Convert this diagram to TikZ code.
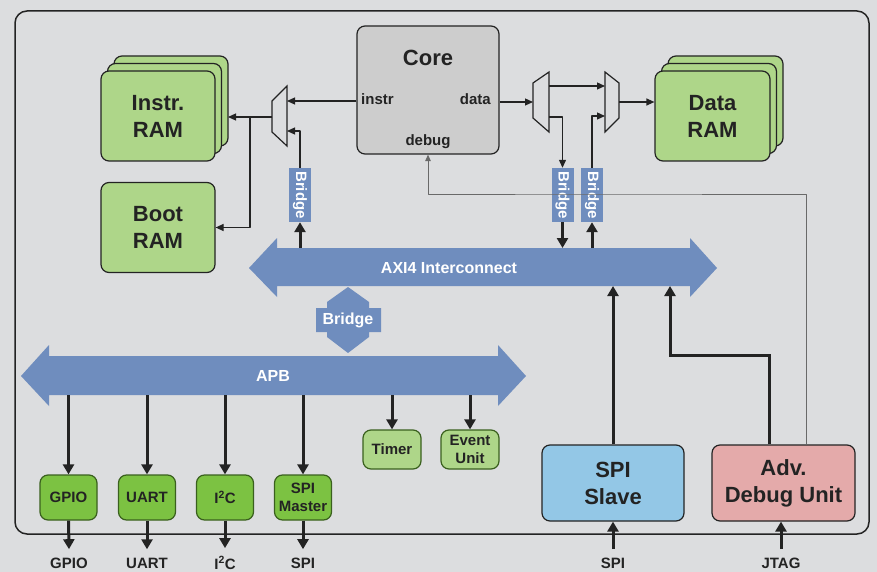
\documentclass[tikz,border=0pt]{standalone}
\usepackage{fontspec}
\usepackage{graphicx}
\setmainfont{Liberation Sans}
\usetikzlibrary{arrows.meta,shadows}
\definecolor{bggray}{RGB}{220,221,223}
\definecolor{busblue}{RGB}{111,141,190}
\definecolor{coregray}{RGB}{205,205,205}
\definecolor{ramgreen}{RGB}{174,214,137}
\definecolor{perigreen}{RGB}{124,194,66}
\definecolor{darkgreen}{RGB}{58,96,30}
\definecolor{slaveblue}{RGB}{147,199,230}
\definecolor{debugpink}{RGB}{228,170,170}
\definecolor{ink}{RGB}{35,35,35}
\definecolor{wiregray}{RGB}{105,105,105}
\newcommand{\fsbig}{\bfseries\fontsize{22}{27}\selectfont}
\newcommand{\fsmid}{\bfseries\fontsize{15}{18}\selectfont}
\newcommand{\fsbus}{\bfseries\fontsize{16}{19}\selectfont}
\tikzset{
  block/.style={draw=ink, line width=1.2pt, rounded corners=8pt, text=ink, align=center, inner sep=0pt},
  ram/.style={block, fill=ramgreen, minimum width=114pt, minimum height=90pt, font=\fsbig},
  ramstack/.style={ram, double copy shadow={shadow xshift=6.5pt, shadow yshift=7.5pt}},
  peri/.style={block, draw=darkgreen, fill=perigreen, minimum width=57pt, minimum height=45pt, font=\fsmid},
  smallperi/.style={block, draw=darkgreen, fill=ramgreen, minimum width=58pt, minimum height=39pt, font=\fsmid},
  bigblock/.style={block, minimum width=142pt, minimum height=76pt, font=\fsbig},
  bridgebox/.style={fill=busblue, text=white, font=\fsmid, minimum width=22pt, minimum height=54pt, inner sep=0pt},
  buslabel/.style={text=white, font=\fsbus},
  portlabel/.style={text=ink, font=\fsmid, inner sep=0pt},
  pinlabel/.style={text=ink, font=\fsmid, inner sep=0pt, outer sep=8.5pt},
  thin arrow/.style={draw=ink, line width=1.2pt, -{Triangle[length=8pt,width=7pt]}},
  thick arrow/.style={draw=ink, line width=3pt, -{Triangle[length=10pt,width=11pt]}},
  debug wire/.style={draw=wiregray, line width=1pt, -{Triangle[length=6.5pt,width=5.5pt]}},
  mux/.style={draw=ink, line width=1.2pt, line join=miter},
}
\begin{document}
\begin{tikzpicture}[x=1pt, y=-1pt, line join=round]
  \fill[bggray] (0,0) rectangle (877,572);
  \useasboundingbox (0,0) rectangle (877,572);
  \draw[ink, line width=1.5pt, rounded corners=12pt] (15,11) rectangle (869,534);

  % memories and core
  \node[ramstack] (instrram) at (158,116) {Instr.\\RAM};
  \node[ram] (bootram) at (158,227.5) {Boot\\RAM};
  \node[ramstack, minimum width=115pt] (dataram) at (712.5,116) {Data\\RAM};
  \node[block, fill=coregray, minimum width=142pt, minimum height=128pt] (core) at (428,90) {};
  \node[text=ink, font=\fsbig, anchor=base] (coretitle) at (428,66) {Core};
  \node[portlabel, anchor=base west] (instrport) at (361,105) {instr};
  \node[portlabel, anchor=base east] (dataport) at (491,105) {data};
  \node[portlabel, anchor=base] (debugport) at (428,146) {debug};

  % muxes
  \draw[mux] (272,101)--(287,86)--(287,146)--(272,132)--cycle;
  \draw[mux] (533,83)--(549,72)--(549,132)--(533,118)--cycle;
  \draw[mux] (605,72)--(619,83)--(619,118)--(605,132)--cycle;
  \coordinate (imuxout) at (272,117);
  \coordinate (imuxin1) at (287,101);
  \coordinate (imuxin2) at (287,131);
  \coordinate (iramback) at (228,117);
  \coordinate (ibranch) at (250,117);
  \coordinate (dmuxin) at (533,102);
  \coordinate (dmuxout1) at (549,86);
  \coordinate (dmuxout2) at (549,117);
  \coordinate (wmuxin1) at (605,86);
  \coordinate (wmuxin2) at (605,116);
  \coordinate (wmuxout) at (619,102);

  % bridges
  \node[bridgebox] (bridgeI) at (300,195) {\rotatebox{-90}{Bridge}};
  \node[bridgebox] (bridgeD) at (562.5,195) {\rotatebox{-90}{Bridge}};
  \node[bridgebox] (bridgeW) at (592,195) {\rotatebox{-90}{Bridge}};

  % buses
  \fill[busblue] (249,268)--(277,238)--(277,248)--(690,248)--(690,238)--(717,268)--(690,297)--(690,286)--(277,286)--(277,297)--cycle;
  \fill[busblue] (21,376)--(49,345)--(49,356)--(498,356)--(498,345)--(526,376)--(498,406)--(498,395)--(49,395)--(49,406)--cycle;
  \fill[busblue] (348,287)--(369,302)--(369,308)--(381,308)--(381,332)--(369,332)--(369,337)--(348,353)--(327,337)--(327,332)--(316,332)--(316,308)--(327,308)--(327,302)--cycle;
  \node[buslabel] (axi) at (449,268) {AXI4 Interconnect};
  \node[buslabel] (apb) at (273,376) {APB};
  \node[buslabel] (apbbridge) at (348,320) {Bridge};
  \coordinate (axiN) at (449,248);
  \coordinate (axiS) at (449,286);
  \coordinate (apbS) at (273,395);

  % peripherals
  \node[peri] (gpio) at (68.5,497.5) {GPIO};
  \node[peri] (uart) at (147,497.5) {UART};
  \node[peri] (iic) at (225,497.5) {I\textsuperscript{2}C};
  \node[peri] (spim) at (303,497.5) {SPI\\Master};
  \node[smallperi] (timer) at (392,449.5) {Timer};
  \node[smallperi] (event) at (470,449.5) {Event\\Unit};
  \node[bigblock, fill=slaveblue] (spislave) at (613,483) {SPI\\Slave};
  \node[bigblock, fill=debugpink, minimum width=143pt] (adu) at (783.5,483) {Adv.\\Debug Unit};

  % pins
  \node[pinlabel] (gpiopin) at (69,563) {GPIO};
  \node[pinlabel] (uartpin) at (147,563) {UART};
  \node[pinlabel] (iicpin) at (225,563) {I\textsuperscript{2}C};
  \node[pinlabel] (spimpin) at (303,563) {SPI};
  \node[pinlabel] (spispin) at (613,563) {SPI};
  \node[pinlabel] (jtagpin) at (781,563) {JTAG};

  % instruction side
  \draw[thin arrow] (core.west |- imuxin1) -- (imuxin1);
  \draw[thin arrow] (bridgeI.north) |- (imuxin2);
  \draw[thin arrow] (imuxout) -- (iramback);
  \draw[thin arrow] (ibranch) |- (bootram.east);

  % data side
  \draw[thin arrow] (core.east |- dmuxin) -- (dmuxin);
  \draw[thin arrow] (dmuxout1) -- (wmuxin1);
  \draw[thin arrow] (dmuxout2) -| (bridgeD.north);
  \draw[thin arrow] (bridgeW.north) |- (wmuxin2);
  \draw[thin arrow] (wmuxout) -- (dataram.west |- wmuxout);

  % to and from the interconnect
  \draw[thick arrow] (bridgeI.south |- axiN) -- (bridgeI.south);
  \draw[thick arrow] (bridgeD.south) -- (bridgeD.south |- axiN);
  \draw[thick arrow] (bridgeW.south |- axiN) -- (bridgeW.south);
  \draw[thick arrow] (spislave.north) -- (spislave.north |- axiS);
  \coordinate (adubend) at (670,355);
  \draw[thick arrow, line join=miter] ([xshift=-14.5pt]adu.north) |- (adubend) -- (adubend |- axiS);
  \coordinate (dbgbend) at (600,194);
  \draw[debug wire] ([xshift=22.5pt]adu.north) |- (dbgbend) -| (core.south);

  % APB slaves
  \foreach \p in {gpio,uart,iic,spim,timer,event}
    \draw[thick arrow] (\p.north |- apbS) -- (\p.north);
  \foreach \p in {gpio,uart,iic,spim}
    \draw[thick arrow] (\p.south) -- (\p pin.north);
  \draw[thick arrow] (spispin.north) -- (spislave.south);
  \draw[thick arrow] (jtagpin.north) -- (jtagpin.north |- adu.south);
\end{tikzpicture}
\end{document}
